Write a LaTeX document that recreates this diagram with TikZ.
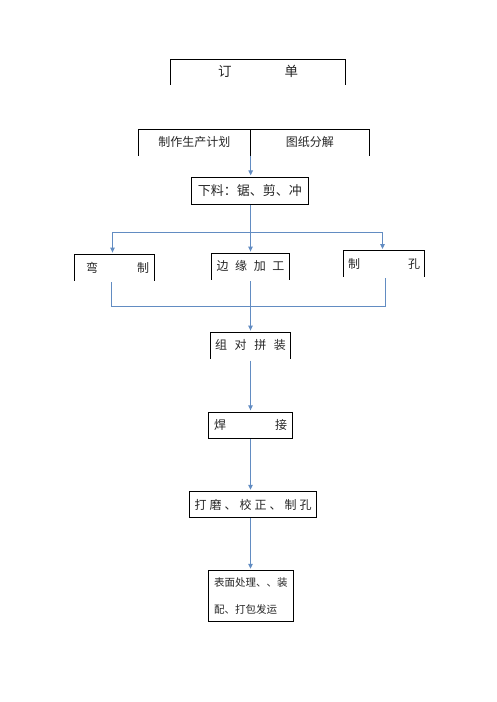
\documentclass[tikz,border=0pt]{standalone}
\usepackage{fontspec}
\newfontfamily\cjk{Noto Sans CJK SC}
\usetikzlibrary{arrows.meta}
\definecolor{flowblue}{RGB}{98,140,194}
\tikzset{
  stage/.style={inner sep=0pt, text=black!85, font=\cjk\fontsize{12}{14}\selectfont},
  closed/.style={stage, draw, line width=0.9pt},
  rim/.style={line width=0.9pt},
  link/.style={draw=flowblue, line width=1pt},
  flow/.style={link, shorten >=1.5pt, -{Triangle[length=5pt,width=4.5pt]}}
}
\begin{document}
\begin{tikzpicture}[x=1pt,y=-1pt]
  \useasboundingbox (0,0) rectangle (496,702);
  \node[stage, minimum width=174.6pt, minimum height=25pt] (order) at (258,71.8) {\fontsize{13.5}{16}\selectfont\makebox[80pt][s]{订\hfill 单}};
  \node[stage, minimum width=112.2pt, minimum height=26pt] (plan) at (194.4,142.3) {制作生产计划};
  \node[stage, minimum width=118.8pt, minimum height=26pt] (drawing) at (309.9,142.3) {图纸分解};
  \node[closed, minimum width=117.7pt, minimum height=27pt] (blank) at (249.85,190.8) {\fontsize{13}{15}\selectfont 下料：锯、剪、冲};
  \node[stage, minimum width=79.3pt, minimum height=26.4pt] (bend) at (114.65,267.5) {\hspace{5.7pt}\makebox[63pt][s]{弯\hfill 制}};
  \node[stage, minimum width=78pt, minimum height=26pt] (edge) at (250.5,266.3) {\makebox[68pt][s]{边\hfill 缘\hfill 加\hfill 工}};
  \node[stage, minimum width=80.6pt, minimum height=26pt] (hole) at (384,263.7) {\makebox[72pt][s]{制\hfill 孔}};
  \node[stage, minimum width=79.3pt, minimum height=26pt] (fit) at (250.5,345.3) {\makebox[71pt][s]{组\hfill 对\hfill 拼\hfill 装}};
  \node[closed, minimum width=83.4pt, minimum height=26pt] (weld) at (250.5,425.3) {\makebox[73pt][s]{焊\hfill 接}};
  \node[closed, minimum width=127.4pt, minimum height=25.6pt] (grind) at (253,504.5) {\makebox[117pt][s]{打\hfill 磨\hfill 、\hfill 校\hfill 正\hfill 、\hfill 制\hfill 孔}};
  \node[closed, minimum width=85pt, minimum height=51pt, align=left, font=\cjk\fontsize{10.5}{26.6}\selectfont] (finish) at (250.8,596.2) {表面处理、、装\\配、打包发运};
  \draw[rim] (order.south west) |- (order.north east) -- (order.south east);
  \draw[rim] (plan.south west) |- (drawing.north east) -- (drawing.south east);
  \draw[rim] (plan.north east) -- (plan.south east);
  \draw[rim] (bend.south west) |- (bend.north east) -- (bend.south east);
  \draw[rim] (edge.south west) |- (edge.north east) -- (edge.south east);
  \draw[rim] (hole.south west) |- (hole.north east) -- (hole.south east);
  \draw[rim] (fit.south west) |- (fit.north east) -- (fit.south east);
  \coordinate (split) at (250.5,232.5);
  \coordinate (merge) at (250.5,306.5);
  \draw[flow] (plan.south east) -- (plan.south east |- blank.north);
  \draw[link] (split |- blank.south) -- (split);
  \draw[flow] (split) -| ([xshift=-2.15pt]bend.north);
  \draw[flow] (split) -- (split |- edge.north);
  \draw[flow] (split) -| ([xshift=-1.5pt]hole.north);
  \draw[link] ([xshift=-3.15pt,yshift=-1.5pt]bend.south) |- (merge) -| ([xshift=1.5pt,yshift=-1pt]hole.south);
  \draw[flow] ([yshift=-1.5pt]edge.south) -- (edge.south |- fit.north);
  \draw[flow] ([yshift=-2pt]fit.south) -- (fit.south |- weld.north);
  \draw[flow] (weld.south) -- (weld.south |- grind.north);
  \draw[flow] (weld.south |- grind.south) -- (weld.south |- finish.north);
\end{tikzpicture}
\end{document}
